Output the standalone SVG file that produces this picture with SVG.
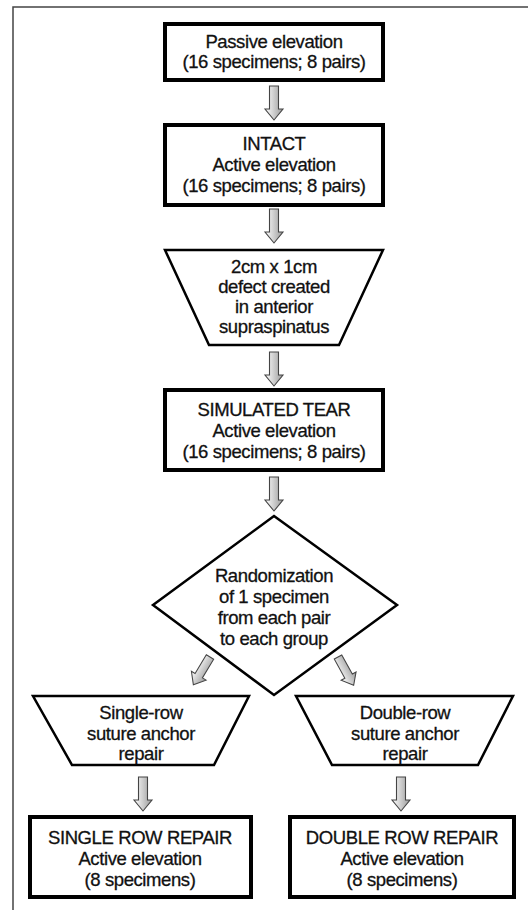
<svg xmlns="http://www.w3.org/2000/svg" width="528" height="910" viewBox="0 0 528 910">
<style>
text{font-family:"Liberation Sans",Arial,Helvetica,sans-serif;font-size:18.5px;letter-spacing:-0.4px;fill:#111;stroke:#111;stroke-width:0.3;text-anchor:middle}
.box{fill:#fff;stroke:#000;stroke-width:4}
.shape{fill:#fff;stroke:#000;stroke-width:2.5;stroke-linejoin:miter}
.arr{fill:url(#ag);stroke:#444;stroke-width:1.1;stroke-linejoin:miter}
.frame{stroke:#444;stroke-width:1.5;fill:none}
</style>
<defs>
<linearGradient id="ag" x1="0" y1="0" x2="1" y2="0">
<stop offset="0" stop-color="#ffffff"/>
<stop offset="1" stop-color="#9a9a9a"/>
</linearGradient>
<path id="arrow" class="arr" d="M-4.5,0 H4.5 V23 H9 L0,34 L-9,23 H-4.5 Z"/>
</defs>
<rect width="528" height="910" fill="#fff"/>
<path class="frame" d="M13,910 V7 H528"/>

<g id="connectors">
<use href="#arrow" transform="translate(274,86)"/>
<use href="#arrow" transform="translate(274,209)"/>
<use href="#arrow" transform="translate(274,352)"/>
<use href="#arrow" transform="translate(274,477)"/>
<use href="#arrow" transform="translate(210,657) rotate(31) scale(0.95)"/>
<use href="#arrow" transform="translate(338,657) rotate(-29) scale(0.95)"/>
<use href="#arrow" transform="translate(143,777)"/>
<use href="#arrow" transform="translate(401,777)"/>
</g>

<g id="passive">
<rect class="box" x="165" y="24" width="218" height="56"/>
<text x="274" y="48">Passive elevation</text>
<text x="274" y="68">(16 specimens; 8 pairs)</text>
</g>

<g id="intact">
<rect class="box" x="165" y="125" width="218" height="80"/>
<text x="274" y="150">INTACT</text>
<text x="274" y="171">Active elevation</text>
<text x="274" y="192">(16 specimens; 8 pairs)</text>
</g>

<g id="defect">
<polygon class="shape" points="165,250 383,250 339,345 209,345"/>
<text x="274" y="273">2cm x 1cm</text>
<text x="274" y="293">defect created</text>
<text x="274" y="313">in anterior</text>
<text x="274" y="333">supraspinatus</text>
</g>

<g id="tear">
<rect class="box" x="165" y="390" width="218" height="80"/>
<text x="274" y="416">SIMULATED TEAR</text>
<text x="274" y="437">Active elevation</text>
<text x="274" y="458">(16 specimens; 8 pairs)</text>
</g>

<g id="randomization">
<polygon class="shape" points="274,516 397,605 274,695 153,605"/>
<text x="274" y="582">Randomization</text>
<text x="274" y="603">of 1 specimen</text>
<text x="274" y="624">from each pair</text>
<text x="274" y="645">to each group</text>
</g>

<g id="single-row">
<polygon class="shape" points="33,696 249,696 214,765 72,765"/>
<text x="141" y="719">Single-row</text>
<text x="141" y="740">suture anchor</text>
<text x="141" y="760">repair</text>
</g>

<g id="double-row">
<polygon class="shape" points="296,696 513,696 478,765 332,765"/>
<text x="405" y="719">Double-row</text>
<text x="405" y="740">suture anchor</text>
<text x="405" y="760">repair</text>
</g>

<g id="single-repair">
<rect class="box" x="30" y="817" width="221" height="80"/>
<text x="140" y="844">SINGLE ROW REPAIR</text>
<text x="140" y="865">Active elevation</text>
<text x="140" y="886">(8 specimens)</text>
</g>

<g id="double-repair">
<rect class="box" x="290" y="817" width="224" height="80"/>
<text x="402" y="844">DOUBLE ROW REPAIR</text>
<text x="402" y="865">Active elevation</text>
<text x="402" y="886">(8 specimens)</text>
</g>
</svg>
